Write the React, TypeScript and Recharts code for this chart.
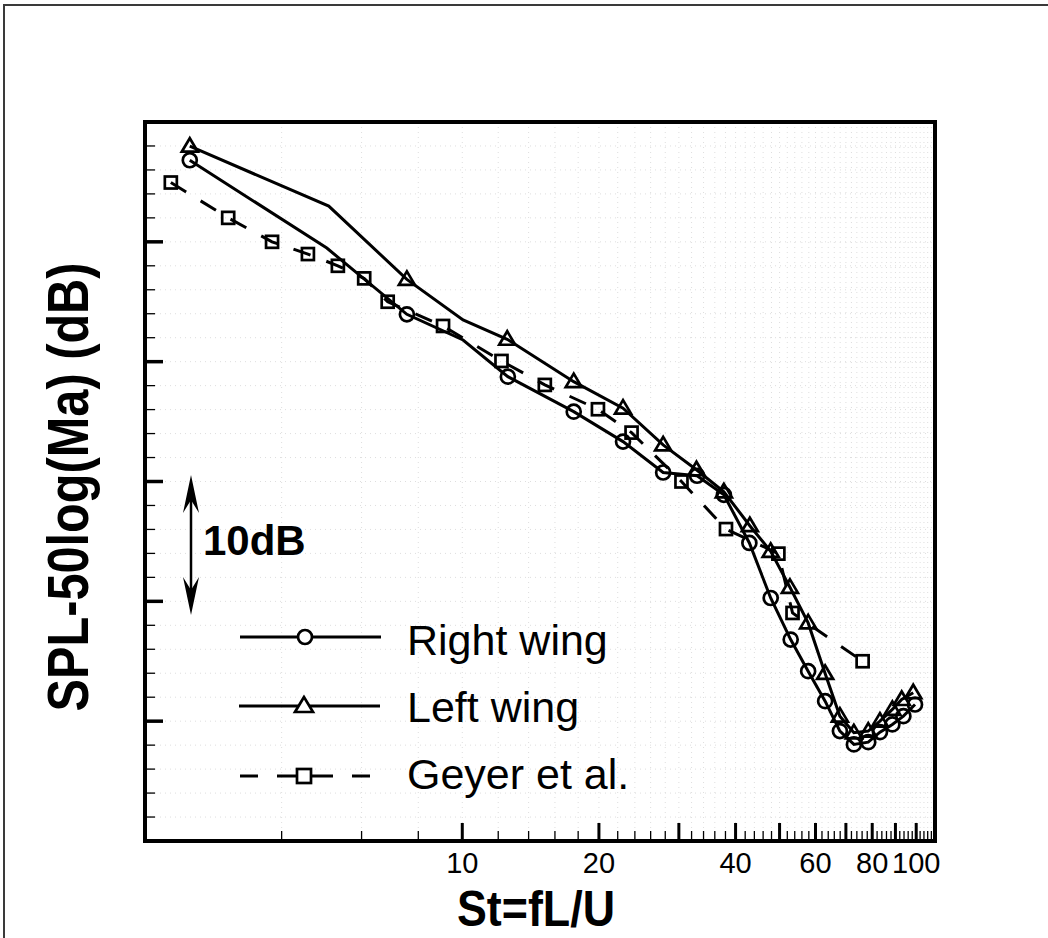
import React from 'react';
import { ComposedChart, Line, XAxis, YAxis, CartesianGrid, ReferenceArea } from 'recharts';

// ---- data (St = fL/U, SPL-50log(Ma) in relative units, 10 units per major tick) ----
const rightWingSt = [2.51, 5.03, 7.55, 10.04, 12.6, 17.6, 22.6, 27.7, 32.9, 37.7, 42.9, 47.8, 52.9, 57.8, 63.0, 67.9, 72.9, 78.4, 83.2, 88.6, 93.7, 99.4];
const rightWingSpl = [56.81, 49.48, 43.95, 41.81, 38.75, 35.83, 33.33, 30.75, 30.48, 28.89, 24.87, 20.28, 16.81, 14.17, 11.67, 9.17, 8.06, 8.25, 9.08, 9.73, 10.42, 11.39];
const rightWingNoSymbol = [1, 3];

const leftWingSt = [2.51, 5.08, 7.55, 10.04, 12.56, 17.6, 22.6, 27.7, 32.8, 37.7, 43.0, 47.8, 52.7, 57.8, 63.0, 67.9, 72.9, 78.4, 83.2, 88.6, 92.9, 98.5];
const leftWingSpl = [57.98, 52.98, 46.87, 43.48, 41.87, 38.33, 36.12, 33.06, 30.98, 29.14, 26.31, 24.17, 21.17, 18.2, 13.98, 10.42, 9.03, 9.17, 10.0, 10.98, 11.81, 12.37];
const leftWingNoSymbol = [1, 3];

const geyerSt = [2.28, 3.05, 3.81, 4.57, 5.32, 6.08, 6.85, 9.07, 12.2, 15.2, 19.9, 23.6, 30.4, 38.1, 49.7, 53.4, 76.2];
const geyerSpl = [54.95, 52.0, 50.0, 48.98, 48.0, 46.95, 45.0, 42.98, 40.06, 38.06, 36.03, 34.08, 30.0, 26.03, 23.98, 19.03, 15.0];
const geyerNoSymbol: number[] = [];

const xDomain = [2, 110];
const xMajorTicks = [10, 20, 30, 40, 50, 60, 70, 80, 90, 100];
const xMinorTicks = [4, 6, 8, 12, 14, 16, 18, 22, 24, 26, 28, 32, 34, 36, 38, 42, 44, 46, 48, 52, 54, 56, 58, 62, 64, 66, 68, 72, 74, 76, 78, 82, 84, 86, 88, 92, 94, 96, 98, 102, 104, 106, 108];
const xTickLabels = [10, 20, 40, 60, 80, 100];
const yDomain = [0, 60];
const yTicks = [0, 2, 4, 6, 8, 10, 12, 14, 16, 18, 20, 22, 24, 26, 28, 30, 32, 34, 36, 38, 40, 42, 44, 46, 48, 50, 52, 54, 56, 58, 60];
const yMajorTicks = [10, 20, 30, 40, 50];

const seriesNames = ['Right wing', 'Left wing', 'Geyer et al.'];
const scaleBarText = '10dB';
const xTitle = 'St=fL/U';
const yTitle = 'SPL-50log(Ma) (dB)';

const toRows = (st: number[], spl: number[], plain: number[]) =>
  st.map((x, i) => ({ st: x, spl: spl[i], mark: !plain.includes(i) }));

const rightRows = toRows(rightWingSt, rightWingSpl, rightWingNoSymbol);
const leftRows = toRows(leftWingSt, leftWingSpl, leftWingNoSymbol);
const geyerRows = toRows(geyerSt, geyerSpl, geyerNoSymbol);
const xTicks = [...xMajorTicks, ...xMinorTicks].sort((a, b) => a - b);

const FONT = '"Liberation Sans", Arial, Helvetica, sans-serif';
const MS = 2.7; // marker stroke

const circleDot = (p: any) => {
  const { cx, cy, payload, index } = p;
  if (!payload.mark || cx == null) return <g key={'c' + index} />;
  return <circle key={'c' + index} cx={cx} cy={cy} r={7} fill="none" stroke="#000" strokeWidth={MS} />;
};
const triDot = (p: any) => {
  const { cx, cy, payload, index } = p;
  if (!payload.mark || cx == null) return <g key={'t' + index} />;
  return (
    <polygon key={'t' + index} points={`${cx},${cy - 8} ${cx - 8},${cy + 5.5} ${cx + 8},${cy + 5.5}`} fill="none" stroke="#000" strokeWidth={MS} strokeLinejoin="miter" />
  );
};
const sqDot = (p: any) => {
  const { cx, cy, payload, index } = p;
  if (!payload.mark || cx == null) return <g key={'s' + index} />;
  return <rect key={'s' + index} x={cx - 6} y={cy - 6} width={12} height={12} fill="none" stroke="#000" strokeWidth={MS} />;
};

const XTick = (props: any) => {
  const { x, y, payload } = props;
  const v = payload.value;
  const major = xMajorTicks.includes(v);
  return (
    <g>
      <line x1={x} x2={x} y1={y} y2={y - (major ? 18 : 10)} stroke="#000" strokeWidth={major ? 3 : 1.3} />
      {xTickLabels.includes(v) && (
        <text x={x} y={y + 32} textAnchor="middle" fontSize={29} fontFamily={FONT} fill="#000">
          {v}
        </text>
      )}
    </g>
  );
};

const YTick = (props: any) => {
  const { x, y, payload } = props;
  const v = payload.value;
  if (v === yDomain[0] || v === yDomain[1]) return <g />;
  const major = yMajorTicks.includes(v);
  return <line x1={x} x2={x + (major ? 18 : 10)} y1={y} y2={y} stroke="#000" strokeWidth={major ? 3.5 : 1.3} />;
};

const Overlay = () => (
  <svg width={1048} height={938} style={{ position: 'absolute', left: 0, top: 0, pointerEvents: 'none' }}>
    {/* outer frame */}
    <path d="M4,938 L4,5 L1048,5" fill="none" stroke="#3a3a3a" strokeWidth={2} />
    {/* axis titles */}
    <text x={536} y={926} textAnchor="middle" fontSize={50} fontWeight="bold" fontFamily={FONT} textLength={158} lengthAdjust="spacingAndGlyphs">
      {xTitle}
    </text>
    <text transform="translate(88,487) rotate(-90)" textAnchor="middle" fontSize={57} fontWeight="bold" fontFamily={FONT} textLength={449} lengthAdjust="spacingAndGlyphs">
      {yTitle}
    </text>
    {/* 10dB scale arrow */}
    <line x1={191} x2={191} y1={490} y2={600} stroke="#000" strokeWidth={2.5} />
    <polygon points="191,475 199,513 191,500 183,513" fill="#000" />
    <polygon points="191,615 199,577 191,590 183,577" fill="#000" />
    <text x={203} y={555} fontSize={42} fontWeight="bold" fontFamily={FONT}>
      {scaleBarText}
    </text>
    {/* legend */}
    <line x1={240} x2={381} y1={637} y2={637} stroke="#000" strokeWidth={3} />
    <circle cx={305} cy={637} r={7} fill="#fff" stroke="#000" strokeWidth={MS} />
    <text x={407} y={655} fontSize={43} fontFamily={FONT}>{seriesNames[0]}</text>

    <line x1={239} x2={380} y1={706} y2={706} stroke="#000" strokeWidth={3} />
    <polygon points="304,697 295,712 313,712" fill="#fff" stroke="#000" strokeWidth={MS} />
    <text x={407} y={722} fontSize={43} fontFamily={FONT}>{seriesNames[1]}</text>

    <line x1={240} x2={258} y1={776} y2={776} stroke="#000" strokeWidth={3} />
    <line x1={277} x2={333} y1={776} y2={776} stroke="#000" strokeWidth={3} />
    <line x1={352} x2={370} y1={776} y2={776} stroke="#000" strokeWidth={3} />
    <rect x={297} y={769} width={14} height={14} fill="#fff" stroke="#000" strokeWidth={MS} />
    <text x={407} y={789} fontSize={43} fontFamily={FONT}>{seriesNames[2]}</text>
  </svg>
);

export default function App() {
  return (
    <div style={{ position: 'absolute', left: 0, top: 0, width: 1048, height: 938, background: '#fff', fontFamily: FONT }}>
      <ComposedChart width={1048} height={938} margin={{ top: 122, right: 113, bottom: 37, left: 85 }}>
        <CartesianGrid stroke="#dedede" strokeDasharray="1 4" strokeWidth={1} />
        <XAxis
          dataKey="st"
          type="number"
          scale="log"
          domain={xDomain}
          allowDataOverflow
          ticks={xTicks}
          interval={0}
          height={60}
          tickSize={0}
          tickMargin={0}
          axisLine={false}
          tickLine={false}
          tick={XTick}
        />
        <YAxis
          type="number"
          domain={yDomain}
          allowDataOverflow
          ticks={yTicks}
          interval={0}
          width={60}
          tickSize={0}
          tickMargin={0}
          axisLine={false}
          tickLine={false}
          tick={YTick}
        />
        <Line data={geyerRows} dataKey="spl" type="linear" stroke="#000" strokeWidth={3} strokeDasharray="18 17" dot={sqDot} activeDot={false} isAnimationActive={false} legendType="none" />
        <Line data={leftRows} dataKey="spl" type="linear" stroke="#000" strokeWidth={3} dot={triDot} activeDot={false} isAnimationActive={false} legendType="none" />
        <Line data={rightRows} dataKey="spl" type="linear" stroke="#000" strokeWidth={3} dot={circleDot} activeDot={false} isAnimationActive={false} legendType="none" />
        <ReferenceArea x1={xDomain[0]} x2={xDomain[1]} y1={yDomain[0]} y2={yDomain[1]} fill="none" stroke="#000" strokeWidth={4} ifOverflow="visible" />
      </ComposedChart>
      <Overlay />
    </div>
  );
}
